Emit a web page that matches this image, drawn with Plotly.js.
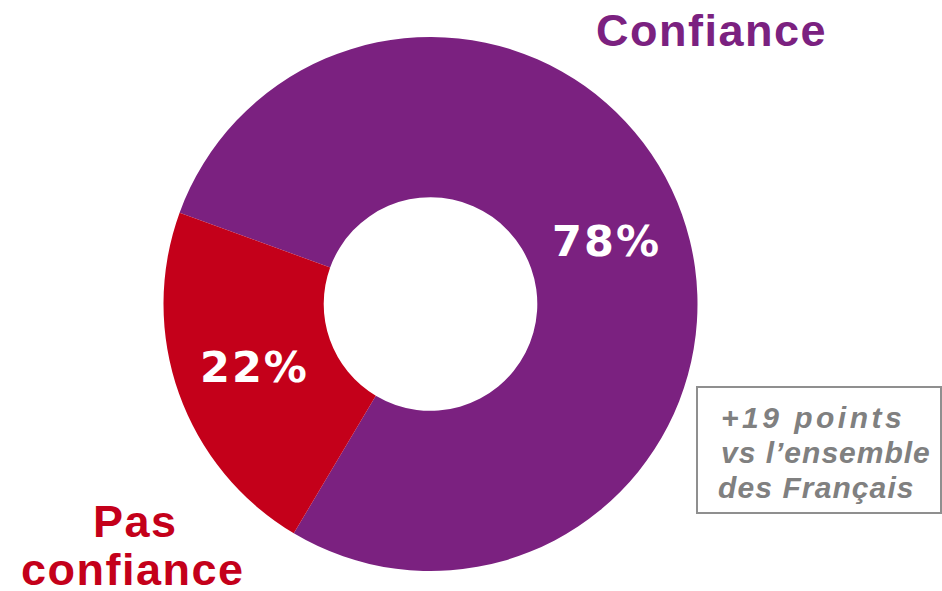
<!DOCTYPE html>
<html>
<head>
<meta charset="utf-8">
<script src="https://cdn.plot.ly/plotly-3.0.1.min.js"></script>
<style>html,body{margin:0;padding:0;background:#fff;}#chart{width:942px;height:591px;}</style>
</head>
<body>
<div id="chart"></div>
<script>
const categories = ["Confiance", "Pas confiance"];
const values = [78, 22];
const percentLabels = ["78%", "22%"];
const colors = ["#7B2180", "#C4001A"];
const noteLines = ["+19 points", "vs l’ensemble", "des Français"];

const W = 942, H = 591;
const cx = 430.5, cy = 304, R = 267;

const sp = (s, ls) => '<span style="letter-spacing:' + ls + 'px">' + s + '</span>';

const trace = {
  type: "pie",
  labels: categories,
  values: values,
  text: percentLabels.map(s => sp(s, 2)),
  textinfo: "text",
  textposition: "inside",
  insidetextorientation: "horizontal",
  sort: false,
  direction: "clockwise",
  rotation: -70,
  hole: 0.4,
  marker: {colors: colors, line: {width: 0}},
  textfont: {family: "DejaVu Sans", size: 43, color: "#ffffff", weight: "bold"},
  domain: {x: [(cx - R) / W, (cx + R) / W], y: [(H - cy - R) / H, (H - cy + R) / H]},
  hoverinfo: "none",
  showlegend: false
};

const bigFont = c => ({family: "Liberation Sans, Arial", size: 45, color: c});
const noteFont = {family: "Liberation Sans, Arial", size: 30, color: "#808080"};

const layout = {
  width: W, height: H,
  margin: {l: 0, r: 0, t: 0, b: 0},
  paper_bgcolor: "#ffffff",
  showlegend: false,
  shapes: [{
    type: "rect", xref: "paper", yref: "paper",
    x0: 697 / W, x1: 941 / W, y0: 1 - 513 / H, y1: 1 - 387 / H,
    line: {color: "#8f8f8f", width: 2}, fillcolor: "rgba(0,0,0,0)"
  }],
  annotations: [
    {text: "<b>" + sp(categories[0], 1.5) + "</b>", xref: "paper", yref: "paper", x: 711 / W, y: 1 - 30 / H,
     xanchor: "center", yanchor: "middle", showarrow: false, font: bigFont(colors[0])},
    {text: "<b>" + sp("Pas", 1.5) + "</b>", xref: "paper", yref: "paper", x: 135 / W, y: 1 - 521 / H,
     xanchor: "center", yanchor: "middle", showarrow: false, font: bigFont(colors[1])},
    {text: "<b>" + sp("confiance", 1.5) + "</b>", xref: "paper", yref: "paper", x: 133 / W, y: 1 - 569 / H,
     xanchor: "center", yanchor: "middle", showarrow: false, font: bigFont(colors[1])},
    {text: "<b><i>" + sp(noteLines[0], 3.5) + "</i></b>", xref: "paper", yref: "paper",
     x: 719 / W, y: 1 - 417 / H, xanchor: "left", yanchor: "middle", align: "left", showarrow: false, font: noteFont},
    {text: "<b><i>" + sp(noteLines[1], 1) + "</i></b>", xref: "paper", yref: "paper",
     x: 719 / W, y: 1 - 452 / H, xanchor: "left", yanchor: "middle", align: "left", showarrow: false, font: noteFont},
    {text: "<b><i>" + sp(noteLines[2], 1.1) + "</i></b>", xref: "paper", yref: "paper",
     x: 716 / W, y: 1 - 487 / H, xanchor: "left", yanchor: "middle", align: "left", showarrow: false, font: noteFont}
  ]
};

Plotly.newPlot("chart", [trace], layout, {displayModeBar: false, staticPlot: true});
</script>
</body>
</html>
